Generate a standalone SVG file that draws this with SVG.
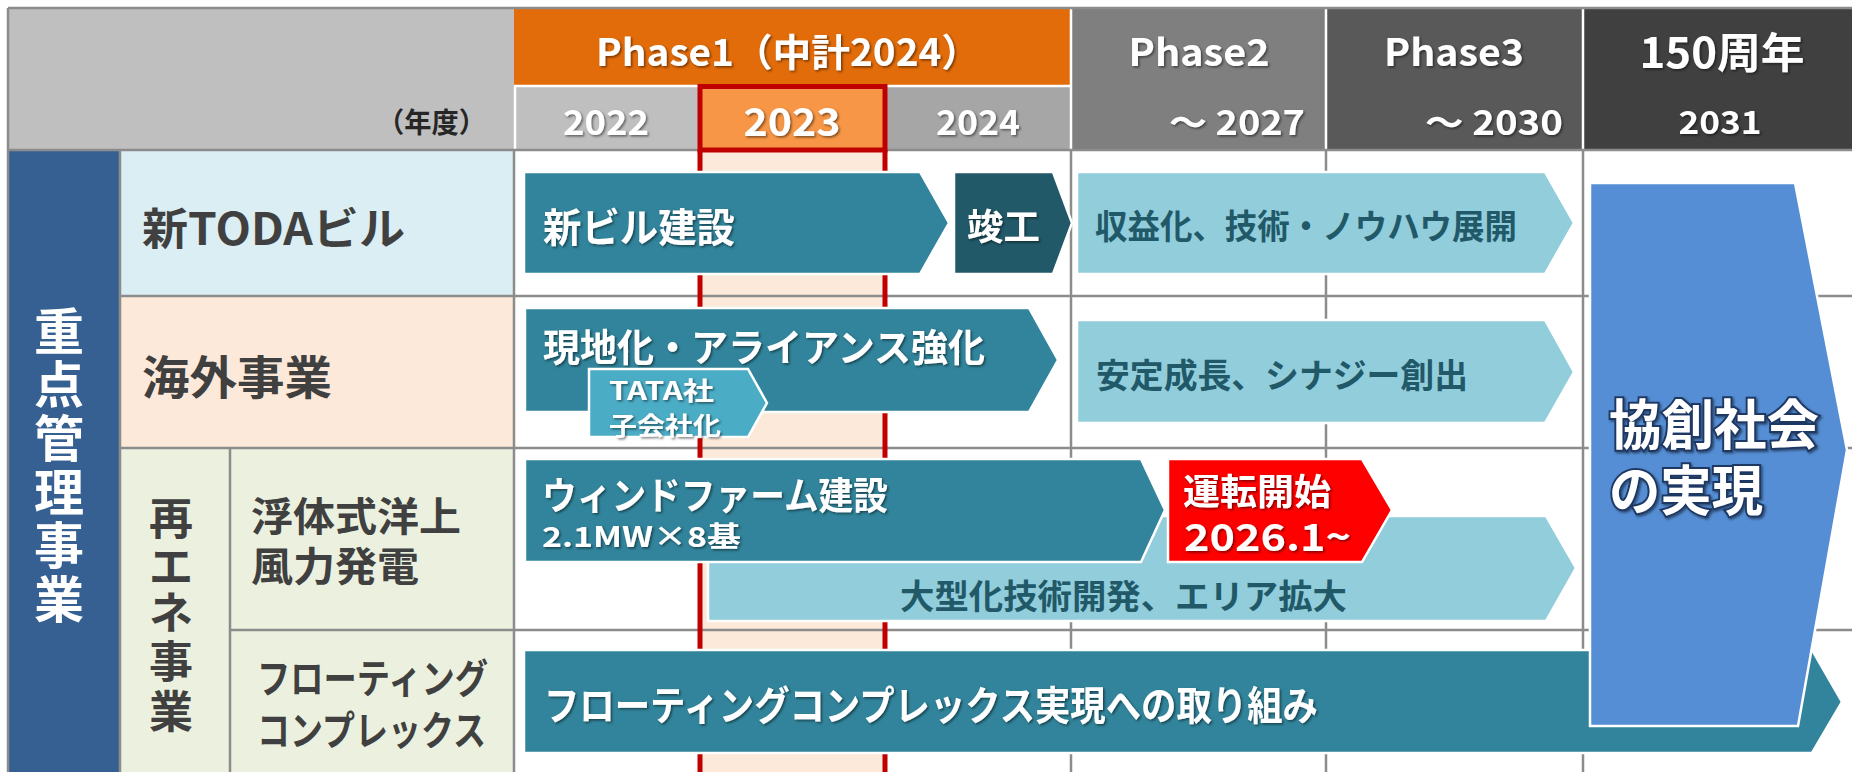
<svg xmlns="http://www.w3.org/2000/svg" width="1852" height="772" viewBox="0 0 1852 772">
<defs>
<filter id="sh" x="-10%" y="-30%" width="120%" height="160%">
<feDropShadow dx="1.5" dy="1.5" stdDeviation="1" flood-color="#000" flood-opacity="0.5"/>
</filter>
<style>
.t{font-family:"Noto Sans CJK JP","Noto Sans",sans-serif;font-weight:700;dominant-baseline:central}
.w{fill:#fff}
.dk{fill:#404040}
.tl{fill:#215968}
.grid{stroke:#8c8c8c;stroke-width:2.5;fill:none}
.wl{stroke:#fff;stroke-width:2.5;fill:none}
.red{stroke:#c00000;stroke-width:5;fill:none}
.ar{fill:#31849b;stroke:#fff;stroke-width:2.5}
.lt{fill:#92cddc;stroke:#fff;stroke-width:2.5}
</style>
</defs>
<rect width="1852" height="772" fill="#fff"/>
<g id="header">
<rect x="8" y="8" width="506" height="142" fill="#bfbfbf"/>
<rect x="514" y="8" width="557" height="77" fill="#e36c0a"/>
<rect x="514" y="85" width="186" height="65" fill="#bfbfbf"/>
<rect x="700" y="85" width="185" height="65" fill="#f79646"/>
<rect x="885" y="85" width="186" height="65" fill="#a6a6a6"/>
<rect x="1071" y="8" width="255" height="142" fill="#7f7f7f"/>
<rect x="1326" y="8" width="257" height="142" fill="#595959"/>
<rect x="1583" y="8" width="269" height="142" fill="#404040"/>
<path class="wl" d="M514 86H1071M515 86V150M1071 8V150M1326 8V150M1583 8V150"/>
<text class="t" x="486" y="121" font-size="28" fill="#262626" text-anchor="end" textLength="109" lengthAdjust="spacingAndGlyphs">（年度）</text>
<g filter="url(#sh)">
<text class="t w" x="596" y="49" font-size="38" textLength="384" lengthAdjust="spacingAndGlyphs">Phase1（中計2024）</text>
<text class="t w" x="606" y="120" font-size="34" text-anchor="middle" textLength="86" lengthAdjust="spacingAndGlyphs">2022</text>
<text class="t w" x="792" y="119" font-size="39" text-anchor="middle" textLength="97" lengthAdjust="spacingAndGlyphs">2023</text>
<text class="t w" x="978" y="120" font-size="34" text-anchor="middle" textLength="84" lengthAdjust="spacingAndGlyphs">2024</text>
<text class="t w" x="1199" y="49" font-size="38" text-anchor="middle" textLength="141" lengthAdjust="spacingAndGlyphs">Phase2</text>
<text class="t w" x="1169" y="120" font-size="34" textLength="136" lengthAdjust="spacingAndGlyphs">～ 2027</text>
<text class="t w" x="1454" y="49" font-size="38" text-anchor="middle" textLength="140" lengthAdjust="spacingAndGlyphs">Phase3</text>
<text class="t w" x="1425" y="120" font-size="34" textLength="138" lengthAdjust="spacingAndGlyphs">～ 2030</text>
<text class="t w" x="1722" y="49" font-size="42" text-anchor="middle" textLength="165" lengthAdjust="spacingAndGlyphs">150周年</text>
<text class="t w" x="1720" y="120" font-size="32" text-anchor="middle" textLength="83" lengthAdjust="spacingAndGlyphs">2031</text>
</g>
</g>
<g id="body-grid">
<rect x="700" y="150" width="185" height="622" fill="#fde9d9"/>
<rect x="8" y="150" width="112" height="622" fill="#366092"/>
<rect x="120" y="150" width="394" height="146" fill="#daeef3"/>
<rect x="120" y="296" width="394" height="152" fill="#fde9d9"/>
<rect x="120" y="448" width="394" height="324" fill="#ebf1de"/>
<path class="grid" d="M8 8H1852M8 8V772M8 150H1852M120 150V772M514 150V772M230 448V772M120 296H1852M120 448H1852M230 630H1852M1071 150V772M1326 150V772M1583 150V772"/>
<rect class="red" x="700" y="86.5" width="185" height="63.5"/>
<path class="red" d="M700 150V772M885 150V772"/>
</g>
<g id="categories">
<text class="t w" font-size="50" text-anchor="middle"><tspan x="59" y="328">重</tspan><tspan x="59" y="381">点</tspan><tspan x="59" y="435">管</tspan><tspan x="59" y="489">理</tspan><tspan x="59" y="542">事</tspan><tspan x="59" y="596">業</tspan></text>
<text class="t dk" x="142" y="226" font-size="44" textLength="263" lengthAdjust="spacingAndGlyphs">新TODAビル</text>
<text class="t dk" x="142" y="374" font-size="46" textLength="190" lengthAdjust="spacingAndGlyphs">海外事業</text>
<text class="t dk" font-size="44" text-anchor="middle"><tspan x="171" y="516">再</tspan><tspan x="171" y="564">エ</tspan><tspan x="171" y="610">ネ</tspan><tspan x="171" y="659">事</tspan><tspan x="171" y="709">業</tspan></text>
<text class="t dk" x="251" y="514" font-size="40" textLength="210" lengthAdjust="spacingAndGlyphs">浮体式洋上</text>
<text class="t dk" x="251" y="564" font-size="40" textLength="168" lengthAdjust="spacingAndGlyphs">風力発電</text>
<text class="t dk" x="257" y="676" font-size="40" textLength="231" lengthAdjust="spacingAndGlyphs">フローティング</text>
<text class="t dk" x="257" y="728" font-size="40" textLength="229" lengthAdjust="spacingAndGlyphs">コンプレックス</text>
</g>
<g id="arrows">
<g id="shin-build">
<polygon class="ar" points="524,172 920,172 949,223 920,274 524,274"/>
<text class="t w" filter="url(#sh)" x="543" y="225" font-size="40" textLength="192" lengthAdjust="spacingAndGlyphs">新ビル建設</text>
</g>
<g id="shunko">
<polygon points="954,172 1053,172 1072,223 1053,274 954,274" fill="#215968" stroke="#fff" stroke-width="2.5"/>
<text class="t w" filter="url(#sh)" x="967" y="224" font-size="36" textLength="73" lengthAdjust="spacingAndGlyphs">竣工</text>
</g>
<g id="shueki">
<polygon class="lt" points="1077,172 1545,172 1574,223 1545,274 1077,274"/>
<text class="t tl" x="1095" y="224" font-size="34" textLength="422" lengthAdjust="spacingAndGlyphs">収益化、技術・ノウハウ展開</text>
</g>
<g id="genchika">
<polygon class="ar" points="525,308 1029,308 1058,360 1029,412 525,412"/>
<text class="t w" filter="url(#sh)" x="543" y="344" font-size="38" textLength="442" lengthAdjust="spacingAndGlyphs">現地化・アライアンス強化</text>
</g>
<g id="tata">
<polygon points="589,369 748,369 767,403 748,437 589,437" fill="#4bacc6" stroke="#fff" stroke-width="2.5"/>
<text class="t w" filter="url(#sh)" x="609" y="389" font-size="25" textLength="105" lengthAdjust="spacingAndGlyphs">TATA社</text>
<text class="t w" filter="url(#sh)" x="609" y="424" font-size="25" textLength="112" lengthAdjust="spacingAndGlyphs">子会社化</text>
</g>
<g id="antei">
<polygon class="lt" points="1077,320 1545,320 1574,372 1545,423 1077,423"/>
<text class="t tl" x="1096" y="373" font-size="34" textLength="372" lengthAdjust="spacingAndGlyphs">安定成長、シナジー創出</text>
</g>
<g id="ogataka">
<polygon class="lt" points="708,516 1546,516 1576,568 1546,621 708,621"/>
<text class="t tl" x="900" y="594" font-size="34" textLength="447" lengthAdjust="spacingAndGlyphs">大型化技術開発、エリア拡大</text>
</g>
<g id="windfarm">
<polygon class="ar" points="525,459 1141,459 1165,510 1141,562 525,562"/>
<text class="t w" filter="url(#sh)" x="542" y="492" font-size="38" textLength="346" lengthAdjust="spacingAndGlyphs">ウィンドファーム建設</text>
<text class="t w" filter="url(#sh)" x="542" y="535" font-size="28" textLength="199" lengthAdjust="spacingAndGlyphs">2.1MW×8基</text>
</g>
<g id="unten">
<polygon points="1168,459 1362,459 1392,510 1362,562 1168,562" fill="#ff0000" stroke="#fff" stroke-width="2.5"/>
<text class="t w" filter="url(#sh)" x="1183" y="489" font-size="36" textLength="148" lengthAdjust="spacingAndGlyphs">運転開始</text>
<text class="t w" filter="url(#sh)" x="1184" y="534" font-size="38" textLength="167" lengthAdjust="spacingAndGlyphs">2026.1~</text>
</g>
<g id="floating">
<polygon class="ar" points="524,650 1812,650 1842,702 1812,753 524,753"/>
<text class="t w" filter="url(#sh)" x="544" y="703" font-size="40" textLength="774" lengthAdjust="spacingAndGlyphs">フローティングコンプレックス実現への取り組み</text>
</g>
<g id="kyoso">
<polygon points="1590,183 1795,183 1847,450 1798,726 1590,726" fill="#558ed5" stroke="#fff" stroke-width="2.5"/>
<g filter="url(#sh)">
<text class="t w" x="1609" y="421" font-size="54" stroke="#1f3864" stroke-width="4" paint-order="stroke" textLength="210" lengthAdjust="spacingAndGlyphs">協創社会</text>
<text class="t w" x="1609" y="487" font-size="54" stroke="#1f3864" stroke-width="4" paint-order="stroke" textLength="154" lengthAdjust="spacingAndGlyphs">の実現</text>
</g>
</g>
</g>
</svg>
